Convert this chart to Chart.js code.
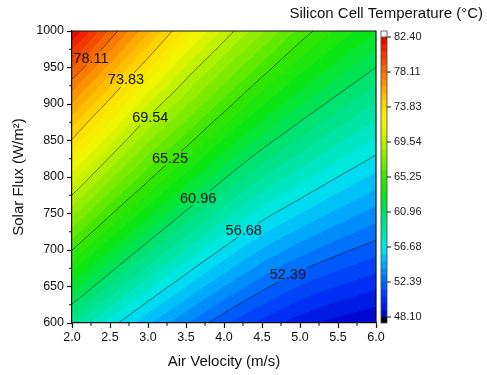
<!DOCTYPE html>
<html>
<head>
<meta charset="utf-8">
<script src="https://cdn.jsdelivr.net/npm/chart.js@4.4.1/dist/chart.umd.min.js"></script>
<style>
  html, body { margin: 0; padding: 0; background: #fff; }
  #wrap { width: 487px; height: 375px; position: relative; }
</style>
</head>
<body>
<div id="wrap"><canvas id="chart"></canvas></div>
<script>
// grid: air velocity (m/s) x solar flux (W/m2)
const airVelocity = [2.0, 2.5, 3.0, 3.5, 4.0, 4.5, 5.0, 5.5, 6.0];
const solarFlux = [600, 650, 700, 750, 800, 850, 900, 950, 1000];

// silicon cell temperature (°C), one row per solar flux value
const temp600  = [59.45, 57.15, 55.11, 53.33, 51.74, 50.41, 49.35, 48.62, 48.10];
const temp650  = [62.35, 59.94, 57.75, 55.83, 54.12, 52.66, 51.47, 50.65, 49.99];
const temp700  = [65.25, 62.68, 60.39, 58.31, 56.49, 54.89, 53.65, 52.67, 51.88];
const temp750  = [68.10, 65.41, 62.98, 60.78, 58.80, 57.12, 55.84, 54.69, 53.73];
const temp800  = [70.92, 68.06, 65.55, 63.23, 61.10, 59.30, 57.91, 56.67, 55.58];
const temp850  = [73.75, 70.73, 67.97, 65.67, 63.43, 61.48, 59.93, 58.57, 57.39];
const temp900  = [76.35, 73.45, 70.44, 68.00, 65.75, 63.65, 61.93, 60.47, 59.16];
const temp950  = [79.05, 76.10, 73.15, 70.30, 67.95, 65.81, 63.88, 62.35, 60.94];
const temp1000 = [82.40, 78.77, 75.75, 72.80, 70.16, 67.96, 65.86, 64.18, 62.69];
const cellTemp = [temp600, temp650, temp700, temp750, temp800, temp850, temp900, temp950, temp1000];

// colour scale tick labels / contour levels
const levelTicks = [48.10, 52.39, 56.68, 60.96, 65.25, 69.54, 73.83, 78.11, 82.40];

// where the contour labels sit (velocity, flux)
const labelSpots = [
  [4.84, 666], [4.26, 727], [3.66, 771], [3.29, 826], [3.03, 881], [2.71, 933], [2.25, 963]
];

const subBands = 5;
const colorStops = [
  [48.10, [0, 0, 200]],
  [50.20, [0, 45, 245]],
  [52.39, [0, 100, 252]],
  [54.50, [0, 168, 252]],
  [56.68, [0, 232, 238]],
  [58.80, [0, 228, 165]],
  [60.96, [0, 226, 100]],
  [63.10, [10, 230, 20]],
  [65.25, [55, 230, 0]],
  [67.40, [125, 235, 0]],
  [69.54, [185, 242, 0]],
  [71.70, [240, 246, 0]],
  [73.83, [255, 222, 0]],
  [76.00, [252, 170, 0]],
  [78.11, [246, 112, 0]],
  [80.30, [240, 55, 0]],
  [82.40, [230, 0, 0]]
];

const tMin = levelTicks[0];
const tMax = levelTicks[levelTicks.length - 1];
const nBands = (levelTicks.length - 1) * subBands;
const bandStep = (tMax - tMin) / nBands;

function colorFor(t) {
  if (t <= colorStops[0][0]) return colorStops[0][1];
  for (let k = 1; k < colorStops.length; k++) {
    if (t <= colorStops[k][0]) {
      const a = colorStops[k - 1], b = colorStops[k];
      const f = (t - a[0]) / (b[0] - a[0]);
      return a[1].map((c, n) => Math.round(c + (b[1][n] - c) * f));
    }
  }
  return colorStops[colorStops.length - 1][1];
}

const bandColors = [];
for (let i = 0; i < nBands; i++) bandColors.push(colorFor(tMin + (i + 0.5) * bandStep));

// smooth (Catmull-Rom) surface through the grid values
function cr(p0, p1, p2, p3, t) {
  return p1 + 0.5 * t * (p2 - p0 + t * (2 * p0 - 5 * p1 + 4 * p2 - p3 + t * (3 * (p1 - p2) + p3 - p0)));
}
function node(j, i) {
  const nx = airVelocity.length, ny = solarFlux.length;
  if (i < 0) return 2 * node(j, 0) - node(j, 1);
  if (i >= nx) return 2 * node(j, nx - 1) - node(j, nx - 2);
  if (j < 0) return 2 * node(0, i) - node(1, i);
  if (j >= ny) return 2 * node(ny - 1, i) - node(ny - 2, i);
  return cellTemp[j][i];
}
function tempAt(v, g) {
  const nx = airVelocity.length, ny = solarFlux.length;
  let i = 0; while (i < nx - 2 && v > airVelocity[i + 1]) i++;
  let j = 0; while (j < ny - 2 && g > solarFlux[j + 1]) j++;
  const tx = (v - airVelocity[i]) / (airVelocity[i + 1] - airVelocity[i]);
  const ty = (g - solarFlux[j]) / (solarFlux[j + 1] - solarFlux[j]);
  const col = [];
  for (let dj = -1; dj <= 2; dj++) {
    col.push(cr(node(j + dj, i - 1), node(j + dj, i), node(j + dj, i + 1), node(j + dj, i + 2), tx));
  }
  return cr(col[0], col[1], col[2], col[3], ty);
}

function bandOf(t) {
  const b = Math.floor((t - tMin) / bandStep);
  return Math.max(0, Math.min(nBands - 1, b));
}

const FONT = "'Liberation Sans', Arial, sans-serif";
const INK = '#111';

const contourPlugin = {
  id: 'contour',
  beforeDraw(chart) {
    const { ctx, chartArea: area } = chart;
    const xs = chart.scales.x, ys = chart.scales.y;
    const L = Math.round(area.left), T = Math.round(area.top);
    const W = Math.round(area.right) - L, H = Math.round(area.bottom) - T;

    // filled field
    const off = document.createElement('canvas');
    off.width = W; off.height = H;
    const octx = off.getContext('2d');
    const img = octx.createImageData(W, H);
    for (let py = 0; py < H; py++) {
      const g = ys.getValueForPixel(T + py + 0.5);
      for (let px = 0; px < W; px++) {
        const v = xs.getValueForPixel(L + px + 0.5);
        const c = bandColors[bandOf(tempAt(v, g))];
        const k = (py * W + px) * 4;
        img.data[k] = c[0]; img.data[k + 1] = c[1]; img.data[k + 2] = c[2]; img.data[k + 3] = 255;
      }
    }
    octx.putImageData(img, 0, 0);
    ctx.save();
    ctx.drawImage(off, L, T);

    // label boxes
    ctx.font = '14.5px ' + FONT;
    const boxes = labelSpots.map((s, n) => {
      const text = levelTicks[n + 1].toFixed(2);
      const x = xs.getPixelForValue(s[0]), y = ys.getPixelForValue(s[1]);
      const w = ctx.measureText(text).width + 3;
      return { text, x, y, w, h: 14 };
    });

    // contour lines via marching squares on a sampled mesh
    const step = 2;
    const cols = Math.ceil(W / step) + 1, rows = Math.ceil(H / step) + 1;
    const grid = [];
    for (let r = 0; r < rows; r++) {
      const y = Math.min(T + r * step, T + H);
      const g = ys.getValueForPixel(y);
      const row = [];
      for (let q = 0; q < cols; q++) {
        const x = Math.min(L + q * step, L + W);
        row.push([x, y, tempAt(xs.getValueForPixel(x), g)]);
      }
      grid.push(row);
    }

    ctx.beginPath();
    ctx.rect(area.left, area.top, area.width, area.height);
    boxes.forEach(b => ctx.rect(b.x - b.w / 2, b.y - b.h / 2, b.w, b.h));
    ctx.clip('evenodd');

    ctx.strokeStyle = 'rgba(20,20,20,0.8)';
    ctx.lineWidth = 0.7;
    for (let n = 1; n < levelTicks.length - 1; n++) {
      const lev = levelTicks[n];
      ctx.beginPath();
      for (let r = 0; r < rows - 1; r++) {
        for (let q = 0; q < cols - 1; q++) {
          const corners = [grid[r][q], grid[r][q + 1], grid[r + 1][q + 1], grid[r + 1][q]];
          const pts = [];
          for (let e = 0; e < 4; e++) {
            const a = corners[e], b = corners[(e + 1) % 4];
            if ((a[2] - lev) * (b[2] - lev) < 0) {
              const f = (lev - a[2]) / (b[2] - a[2]);
              pts.push([a[0] + (b[0] - a[0]) * f, a[1] + (b[1] - a[1]) * f]);
            }
          }
          for (let p = 0; p + 1 < pts.length; p += 2) {
            ctx.moveTo(pts[p][0], pts[p][1]);
            ctx.lineTo(pts[p + 1][0], pts[p + 1][1]);
          }
        }
      }
      ctx.stroke();
    }
    ctx.restore();

    // contour labels
    ctx.save();
    ctx.font = '14.5px ' + FONT;
    ctx.fillStyle = INK;
    ctx.textAlign = 'center';
    ctx.textBaseline = 'middle';
    boxes.forEach(b => ctx.fillText(b.text, b.x, b.y + 0.5));
    ctx.restore();
  },
  afterDraw(chart) {
    const { ctx, chartArea: area } = chart;
    const xs = chart.scales.x, ys = chart.scales.y, cs = chart.scales.c;
    ctx.save();
    ctx.strokeStyle = INK;
    ctx.lineWidth = 1.2;
    // top and right frame
    ctx.beginPath();
    ctx.moveTo(area.left, area.top);
    ctx.lineTo(area.right, area.top);
    ctx.lineTo(area.right, area.bottom);
    ctx.stroke();
    // minor ticks
    ctx.lineWidth = 1;
    ctx.beginPath();
    for (let v = 2.25; v < 6; v += 0.5) {
      const x = xs.getPixelForValue(v);
      ctx.moveTo(x, area.bottom);
      ctx.lineTo(x, area.bottom + 3);
    }
    for (let g = 625; g < 1000; g += 50) {
      const y = ys.getPixelForValue(g);
      ctx.moveTo(area.left, y);
      ctx.lineTo(area.left - 3, y);
    }
    ctx.stroke();

    // colour bar
    const bx = area.right + 5, bw = 6;
    for (let i = 0; i < nBands; i++) {
      const y0 = cs.getPixelForValue(tMin + (i + 1) * bandStep);
      const y1 = cs.getPixelForValue(tMin + i * bandStep);
      const c = bandColors[i];
      ctx.fillStyle = `rgb(${c[0]},${c[1]},${c[2]})`;
      ctx.fillRect(bx, y0, bw, y1 - y0 + 0.5);
    }
    const yTop = cs.getPixelForValue(cs.max), yHi = cs.getPixelForValue(tMax);
    const yLo = cs.getPixelForValue(tMin), yBot = cs.getPixelForValue(cs.min);
    ctx.fillStyle = '#fff';
    ctx.fillRect(bx, yTop, bw, yHi - yTop);
    ctx.fillStyle = '#000';
    ctx.fillRect(bx, yLo, bw, yBot - yLo);
    ctx.strokeStyle = '#444';
    ctx.lineWidth = 0.8;
    ctx.strokeRect(bx, yTop, bw, yBot - yTop);
    ctx.beginPath();
    ctx.moveTo(bx, yHi); ctx.lineTo(bx + bw, yHi);
    ctx.stroke();
    ctx.strokeStyle = INK;
    ctx.lineWidth = 1;
    ctx.beginPath();
    levelTicks.forEach(t => {
      const y = cs.getPixelForValue(t);
      ctx.moveTo(bx + bw, y);
      ctx.lineTo(bx + bw + 4, y);
    });
    ctx.stroke();
    ctx.restore();
  }
};

Chart.defaults.font.family = FONT;
Chart.defaults.color = INK;

new Chart(document.getElementById('chart'), {
  type: 'scatter',
  data: { datasets: [{ data: [], pointRadius: 0 }] },
  options: {
    responsive: true,
    maintainAspectRatio: false,
    animation: false,
    layout: { padding: { left: 0, right: 4, top: 0, bottom: 0 } },
    plugins: {
      legend: { display: false },
      tooltip: { enabled: false },
      title: {
        display: true,
        text: 'Silicon Cell Temperature (°C)',
        align: 'end',
        color: INK,
        font: { size: 15, weight: 'normal' },
        padding: { top: 5, bottom: 8 }
      }
    },
    scales: {
      x: {
        type: 'linear', position: 'bottom', min: 2, max: 6,
        ticks: { stepSize: 0.5, callback: v => Number(v).toFixed(1), font: { size: 12.5 }, padding: 2, maxRotation: 0, autoSkip: false, color: INK },
        grid: { drawOnChartArea: false, tickLength: 5, tickColor: INK, tickWidth: 1.2 },
        border: { color: INK, width: 1.2 },
        title: { display: true, text: 'Air Velocity (m/s)', font: { size: 15 }, color: INK, padding: { top: 0, bottom: 4 } },
        afterFit: s => { s.height = 52; }
      },
      y: {
        type: 'linear', position: 'left', min: 600, max: 1000,
        ticks: { stepSize: 50, callback: v => String(v), font: { size: 12.5 }, padding: 3, autoSkip: false, color: INK },
        grid: { drawOnChartArea: false, tickLength: 5, tickColor: INK, tickWidth: 1.2 },
        border: { color: INK, width: 1.2 },
        title: { display: true, text: 'Solar Flux (W/m²)', font: { size: 15 }, color: INK, padding: { top: 10, bottom: 0 } },
        afterFit: s => { s.width = 72; }
      },
      c: {
        type: 'linear', position: 'right', min: 47.365, max: 83.135,
        afterBuildTicks: s => { s.ticks = levelTicks.map(v => ({ value: v })); },
        ticks: { callback: v => Number(v).toFixed(2), font: { size: 11 }, padding: 18, autoSkip: false, color: '#222' },
        grid: { display: false, drawTicks: false },
        border: { display: false },
        afterFit: s => { s.width = 107; }
      }
    }
  },
  plugins: [contourPlugin]
});
</script>
</body>
</html>
